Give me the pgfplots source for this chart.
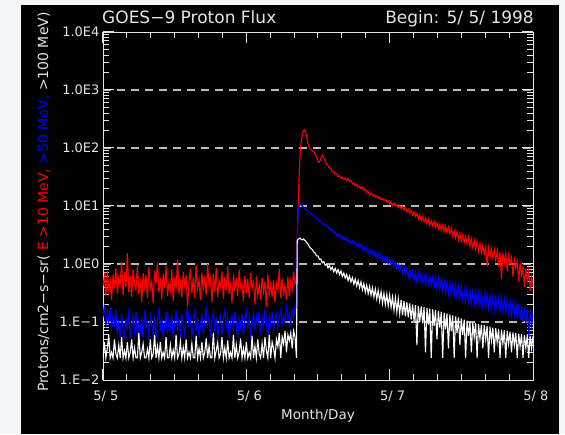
\documentclass[border=0pt]{standalone}
\usepackage{pgfplots}
\pgfplotsset{compat=1.18}
\usepackage{pgfplotstable}
\usepackage{fontspec}
\setmainfont{DejaVu Sans}
\definecolor{bgout}{RGB}{244,245,247}
\definecolor{fg}{RGB}{228,228,228}
\definecolor{gridc}{RGB}{185,185,185}
\definecolor{pred}{RGB}{255,0,0}
\definecolor{pblue}{RGB}{0,0,255}

\pgfplotstableread{
t r b w
0.00 0.42 0.12 0.024
0.01 0.61 0.20 0.045
0.02 0.28 0.08 0.024
0.03 0.75 0.15 0.035
0.04 0.35 0.10 0.06
0.05 0.52 0.18 0.024
0.06 0.24 0.07 0.03
0.07 0.66 0.13 0.024
0.08 0.38 0.09 0.05
0.09 0.85 0.16 0.028
0.10 0.31 0.06 0.024
0.11 0.58 0.11 0.04
0.12 0.44 0.052 0.024
0.13 1.10 0.14 0.055
0.14 0.29 0.08 0.024
0.15 0.72 0.052 0.032
0.16 0.40 0.12 0.024
0.17 1.55 0.07 0.045
0.18 0.33 0.17 0.024
0.19 0.62 0.052 0.03
0.20 0.27 0.09 0.05
0.21 0.81 0.13 0.024
0.22 0.46 0.06 0.036
0.23 0.36 0.15 0.024
0.24 0.95 0.052 0.024
0.25 0.30 0.10 0.065
0.26 0.55 0.07 0.024
0.27 0.22 0.12 0.03
0.28 0.70 0.052 0.042
0.29 0.41 0.16 0.024
0.30 0.64 0.08 0.024
0.31 0.26 0.11 0.034
0.32 0.88 0.052 0.024
0.33 0.37 0.14 0.05
0.34 0.50 0.09 0.024
0.35 0.21 0.06 0.028
0.36 0.77 0.13 0.06
0.37 0.45 0.052 0.024
0.38 1.05 0.10 0.038
0.39 0.32 0.18 0.024
0.40 0.57 0.07 0.045
0.41 0.25 0.12 0.024
0.42 0.69 0.052 0.03
0.43 0.39 0.09 0.024
0.44 0.92 0.15 0.055
0.45 0.28 0.06 0.024
0.46 0.48 0.11 0.024
0.47 0.34 0.08 0.04
0.48 0.80 0.13 0.024
0.49 0.23 0.052 0.033
0.50 0.60 0.10 0.024
0.51 0.36 0.16 0.06
0.52 1.20 0.07 0.024
0.53 0.30 0.12 0.028
0.54 0.54 0.052 0.045
0.55 0.27 0.14 0.024
0.56 0.73 0.09 0.036
0.57 0.43 0.06 0.024
0.58 0.65 0.11 0.05
0.59 0.19 0.19 0.024
0.60 0.47 0.08 0.03
0.61 0.83 0.13 0.024
0.62 0.31 0.052 0.042
0.63 0.59 0.10 0.024
0.64 0.26 0.15 0.024
0.65 0.97 0.07 0.058
0.66 0.38 0.12 0.024
0.67 0.53 0.052 0.035
0.68 0.24 0.09 0.024
0.69 0.71 0.14 0.045
0.70 0.35 0.06 0.024
0.71 0.62 0.11 0.03
0.72 0.29 0.17 0.052
0.73 1.00 0.08 0.024
0.74 0.41 0.13 0.038
0.75 0.56 0.052 0.024
0.76 0.22 0.10 0.024
0.77 0.68 0.15 0.065
0.78 0.33 0.07 0.024
0.79 0.86 0.12 0.032
0.80 0.27 0.052 0.044
0.81 0.51 0.09 0.024
0.82 0.40 0.14 0.028
0.83 0.74 0.06 0.055
0.84 0.25 0.11 0.024
0.85 0.60 0.16 0.036
0.86 0.36 0.08 0.024
0.87 0.90 0.12 0.048
0.88 0.30 0.052 0.024
0.89 0.49 0.10 0.03
0.90 0.21 0.13 0.024
0.91 0.67 0.07 0.06
0.92 0.34 0.15 0.024
0.93 0.57 0.09 0.04
0.94 0.28 0.052 0.024
0.95 0.79 0.12 0.03
0.96 0.39 0.08 0.052
0.97 0.46 0.14 0.024
0.98 0.23 0.06 0.035
0.99 0.63 0.11 0.024
1.00 0.32 0.16 0.045
1.01 0.55 0.08 0.024
1.02 0.26 0.12 0.03
1.03 0.70 0.052 0.024
1.04 0.37 0.10 0.058
1.05 0.48 0.14 0.024
1.06 0.20 0.07 0.038
1.07 0.61 0.13 0.024
1.08 0.29 0.09 0.05
1.09 0.44 0.15 0.028
1.10 0.24 0.06 0.024
1.11 0.58 0.12 0.042
1.12 0.33 0.08 0.024
1.13 0.50 0.17 0.055
1.14 0.18 0.10 0.032
1.15 0.66 0.052 0.024
1.16 0.30 0.13 0.06
1.17 0.45 0.09 0.024
1.18 0.27 0.15 0.045
1.19 0.53 0.07 0.035
1.20 0.22 0.11 0.024
1.21 0.47 0.14 0.05
1.22 0.35 0.08 0.038
1.23 0.82 0.12 0.065
1.24 0.26 0.16 0.024
1.25 0.56 0.09 0.055
1.26 0.31 0.13 0.042
1.27 0.43 0.10 0.07
1.28 0.24 0.18 0.03
1.29 0.60 0.11 0.06
1.30 0.28 0.14 0.048
1.31 0.52 0.09 0.065
1.32 0.36 0.16 0.035
1.33 0.74 0.12 0.07
1.34 0.45 0.19 0.055
1.350 0.55 0.20 0.024
1.355 2.5 3.0 2.5
1.360 8 6.0 2.65
1.365 20 9.0 2.7
1.370 42 10.5 2.75
1.375 75 11.2 2.8
1.380 110 10.6 2.7
1.385 140 10.3 2.65
1.390 165 10.0 2.6
1.395 188 9.7 2.65
1.400 200 9.5 2.7
1.405 206 9.2 2.6
1.410 198 8.9 2.55
1.415 182 8.7 2.45
1.420 160 8.5 2.35
1.425 138 8.3 2.3
1.430 118 8.0 2.2
1.44 100 7.7 2.0
1.45 96 7.2 1.85
1.46 88 7.2 1.78
1.47 86 6.6 1.6
1.48 78 6.5 1.55
1.49 72 6.0 1.38
1.50 58 6.0 1.38
1.51 57 5.4 1.2
1.52 66 5.5 1.22
1.53 75 4.9 1.05
1.54 68 5.0 1.1
1.55 62 4.5 0.95
1.56 52 4.6 1.0
1.57 50 4.1 0.86
1.58 45 4.3 0.94
1.59 44 3.8 0.8
1.60 39 3.9 0.88
1.61 39 3.4 0.74
1.62 35 3.6 0.84
1.63 36 3.1 0.7
1.64 32 3.3 0.8
1.65 33.5 2.85 0.66
1.66 30 3.1 0.76
1.67 31.5 2.7 0.61
1.68 29 2.95 0.7
1.69 30 2.55 0.57
1.70 27.5 2.8 0.66
1.71 29.5 2.4 0.52
1.72 26.5 2.6 0.62
1.73 27.5 2.25 0.49
1.74 24 2.5 0.58
1.75 25 2.15 0.45
1.76 22.5 2.35 0.55
1.77 23.5 2.0 0.42
1.78 21 2.3 0.52
1.79 22 1.9 0.39
1.80 19.8 2.15 0.49
1.81 21 1.75 0.36
1.82 18.5 2.0 0.46
1.83 19.5 1.68 0.33
1.84 17 1.9 0.43
1.85 17.8 1.55 0.31
1.86 15.6 1.8 0.41
1.87 16.6 1.48 0.29
1.88 15 1.7 0.39
1.89 15.8 1.38 0.27
1.90 14.2 1.62 0.37
1.91 14.8 1.3 0.25
1.92 13.6 1.55 0.35
1.93 14.4 1.22 0.23
1.94 12.8 1.45 0.33
1.95 13.4 1.15 0.21
1.96 12.4 1.38 0.31
1.97 13 1.08 0.2
1.98 11.8 1.3 0.3
1.99 12.3 1.02 0.19
2.00 10.8 1.22 0.29
2.01 11.8 0.95 0.18
2.02 10.2 1.15 0.27
2.03 11.2 0.88 0.16
2.04 9.9 1.07 0.26
2.05 10.6 0.82 0.15
2.06 9.3 1.0 0.25
2.07 10.2 0.76 0.14
2.08 9.0 0.95 0.24
2.09 9.8 0.7 0.13
2.10 8.5 0.88 0.23
2.11 9.4 0.66 0.125
2.12 8.0 0.84 0.22
2.13 8.9 0.6 0.12
2.14 7.5 0.78 0.21
2.15 8.4 0.56 0.11
2.16 7.1 0.74 0.2
2.17 7.9 0.52 0.105
2.18 6.6 0.7 0.195
2.19 7.4 0.48 0.04
2.20 6.0 0.72 0.19
2.21 7.0 0.50 0.1
2.22 5.6 0.68 0.185
2.23 6.6 0.48 0.095
2.24 5.3 0.66 0.18
2.25 6.2 0.46 0.03
2.26 5.0 0.63 0.175
2.27 5.9 0.44 0.09
2.28 4.6 0.62 0.17
2.29 5.6 0.42 0.024
2.30 4.5 0.60 0.165
2.31 5.4 0.40 0.085
2.32 4.3 0.58 0.16
2.33 5.1 0.38 0.05
2.34 4.0 0.56 0.155
2.35 4.9 0.36 0.08
2.36 3.8 0.54 0.15
2.37 4.7 0.34 0.024
2.38 3.6 0.52 0.145
2.39 4.5 0.32 0.075
2.40 3.5 0.49 0.14
2.41 4.3 0.30 0.035
2.42 3.3 0.47 0.135
2.43 4.1 0.29 0.07
2.44 3.0 0.45 0.13
2.45 3.8 0.28 0.024
2.46 2.8 0.43 0.125
2.47 3.6 0.27 0.065
2.48 2.6 0.41 0.12
2.49 3.4 0.25 0.04
2.50 2.5 0.39 0.115
2.51 3.2 0.24 0.06
2.52 2.3 0.38 0.11
2.53 3.0 0.23 0.024
2.54 2.2 0.37 0.105
2.55 2.9 0.22 0.058
2.56 2.0 0.35 0.1
2.57 2.7 0.21 0.03
2.58 1.9 0.34 0.098
2.59 2.6 0.20 0.055
2.60 1.8 0.33 0.095
2.61 2.45 0.195 0.024
2.62 1.65 0.32 0.092
2.63 2.3 0.19 0.052
2.64 1.55 0.31 0.09
2.65 2.1 0.185 0.035
2.66 1.45 0.30 0.088
2.67 2.0 0.18 0.05
2.68 0.9 0.29 0.085
2.69 1.9 0.17 0.024
2.70 1.3 0.285 0.083
2.71 1.85 0.165 0.048
2.72 1.25 0.28 0.08
2.73 1.75 0.16 0.03
2.74 1.15 0.27 0.078
2.75 1.7 0.16 0.045
2.76 0.9 0.265 0.076
2.77 1.6 0.155 0.024
2.78 0.55 0.26 0.074
2.79 1.55 0.15 0.043
2.80 1.05 0.25 0.072
2.81 1.5 0.15 0.024
2.82 0.75 0.245 0.07
2.83 1.4 0.14 0.042
2.84 1.0 0.23 0.068
2.85 1.3 0.13 0.03
2.86 0.6 0.22 0.066
2.87 1.2 0.125 0.04
2.88 0.85 0.21 0.064
2.89 1.1 0.115 0.024
2.90 0.5 0.2 0.063
2.91 1.0 0.11 0.038
2.92 0.65 0.19 0.062
2.93 0.9 0.1 0.024
2.94 0.4 0.18 0.06
2.95 0.85 0.095 0.036
2.96 0.5 0.17 0.059
2.97 0.75 0.055 0.024
2.98 0.34 0.16 0.058
2.99 0.6 0.085 0.035
3.00 0.42 0.14 0.057
}\fluxdata

\begin{document}
\begin{tikzpicture}[x=1pt,y=1pt]
\fill[bgout] (0,0) rectangle (565,434);
\fill[black] (21,0) rectangle (559,429);
\begin{axis}[
  at={(103pt,54pt)}, anchor=south west,
  scale only axis, width=430pt, height=348pt,
  xmin=0, xmax=3, ymin=0.01, ymax=10000, ymode=log,
  axis line style={draw=fg, line width=0.8pt},
  tick style={draw=fg, line width=1pt},
  major tick style={draw=fg, line width=1pt},
  minor tick style={draw=fg, line width=1pt},
  tick align=inside,
  major tick length=11pt, minor tick length=6pt,
  xtick={0,1,2,3}, xticklabels={5/\ 5,5/\ 6,5/\ 7,5/\ 8},
  minor xtick={0.1667,0.3333,0.5,0.6667,0.8333,1.1667,1.3333,1.5,1.6667,1.8333,2.1667,2.3333,2.5,2.6667,2.8333},
  ytick={0.01,0.1,1,10,100,1000,10000},
  minor ytick={0.02,0.03,0.04,0.05,0.06,0.07,0.08,0.09,0.2,0.3,0.4,0.5,0.6,0.7,0.8,0.9,2,3,4,5,6,7,8,9,20,30,40,50,60,70,80,90,200,300,400,500,600,700,800,900,2000,3000,4000,5000,6000,7000,8000,9000},
  yticklabels={1.E−2,1.E−1,1.0E0,1.0E1,1.0E2,1.0E3,1.0E4},
  ticklabel style={font=\fontsize{13}{13}\selectfont, text=fg},
  xticklabel style={yshift=-7pt, xshift=3pt},
  ymajorgrids=false, xmajorgrids=false,
  extra y ticks={0.1,1,10,100,1000}, extra y tick labels={},
  extra y tick style={grid=major, major grid style={draw=gridc, dash pattern=on 8pt off 6pt, line width=1.1pt}},
  clip=true,
]
\addplot[pred, line width=1.1pt] table[x=t, y=r] {\fluxdata};
\addplot[pblue, line width=1.1pt] table[x=t, y=b] {\fluxdata};
\addplot[white, line width=1.1pt] table[x=t, y=w] {\fluxdata};
\end{axis}
\node[anchor=base west, inner sep=0, text=fg, font=\fontsize{17}{17}\selectfont] at (102,410) {GOES−9 Proton Flux};
\node[anchor=base east, inner sep=0, text=fg, font=\fontsize{17}{17}\selectfont] at (534,410) {Begin: 5/ 5/ 1998};
\node[anchor=base, inner sep=0, text=fg, font=\fontsize{13.5}{13.5}\selectfont] at (318,15) {Month/Day};
\node[rotate=90, anchor=base, inner sep=0, text=fg, font=\fontsize{14}{14}\selectfont] at (48,232) {Protons/cm2−s−sr( \textcolor{pred}{E >10 MeV,} \textcolor{pblue}{>50 MeV,} >100 MeV)};
\end{tikzpicture}
\end{document}
